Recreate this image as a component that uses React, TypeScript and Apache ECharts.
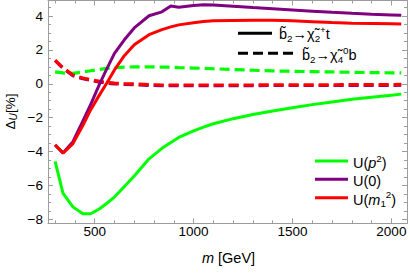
import React, { useEffect, useRef } from "react";
import * as echarts from "echarts";

// ---- data ----
const mass = [300, 340, 390, 440, 480, 525, 560, 600, 650, 700, 775, 840, 885, 925, 1000, 1050, 1100, 1200, 1300, 1400, 1500, 1600, 1700, 1800, 1900, 2000, 2050];

// solid: b2 -> chi2+ t
const solidP2 = [-4.58, -6.47, -7.27, -7.67, -7.68, -7.38, -7.07, -6.69, -6.07, -5.44, -4.43, -3.81, -3.47, -3.17, -2.78, -2.56, -2.36, -2.06, -1.81, -1.61, -1.41, -1.23, -1.07, -0.91, -0.79, -0.67, -0.61];
const solidZero = [-3.62, -4.08, -3.42, -2.2, -1.22, 0.0, 0.85, 1.8, 2.6, 3.3, 4.02, 4.25, 4.6, 4.52, 4.62, 4.67, 4.66, 4.58, 4.5, 4.43, 4.36, 4.29, 4.22, 4.16, 4.11, 4.07, 4.05];
const solidM1 = [-3.6, -4.1, -3.53, -2.47, -1.53, -0.64, 0.02, 0.82, 1.66, 2.3, 2.9, 3.2, 3.36, 3.48, 3.6, 3.68, 3.72, 3.74, 3.76, 3.76, 3.72, 3.67, 3.62, 3.58, 3.56, 3.54, 3.53];

// dashed: b2 -> chi4^0 b
const dashP2 = [0.7, 0.64, 0.62, 0.7, 0.77, 0.85, 0.91, 0.95, 0.98, 1.0, 1.0, 0.99, 0.98, 0.96, 0.93, 0.91, 0.89, 0.84, 0.8, 0.76, 0.74, 0.72, 0.7, 0.68, 0.66, 0.65, 0.64];
const dashZero = [1.37, 0.91, 0.48, 0.3, 0.2, 0.1, 0.04, 0.0, -0.03, -0.05, -0.09, -0.11, -0.11, -0.11, -0.11, -0.11, -0.11, -0.11, -0.11, -0.1, -0.1, -0.1, -0.1, -0.09, -0.09, -0.09, -0.08];
const dashM1 = [1.4, 0.95, 0.52, 0.34, 0.24, 0.14, 0.08, 0.04, 0.01, -0.01, -0.05, -0.07, -0.07, -0.07, -0.07, -0.07, -0.07, -0.07, -0.07, -0.06, -0.06, -0.06, -0.06, -0.05, -0.05, -0.05, -0.04];

const xMin = 264;
const xMax = 2079;
const yMin = -8.24;
const yMax = 4.92;

const GREEN = "#00ff00";
const PURPLE = "#800080";
const RED = "#ff0000";
const GRAY = "#9c9c9c";
const FONT = '"Liberation Sans", Arial, Helvetica, sans-serif';

const pairs = (vals: number[]) => mass.map((m, i) => [m, vals[i]]);

const rich = (size: number) => ({
  n: { fontSize: size, fontFamily: FONT, color: "#000" },
  i: { fontSize: size, fontFamily: FONT, fontStyle: "italic", color: "#000" },
  sb: { fontSize: size * 0.68, fontFamily: FONT, color: "#000", padding: [8, 0, 0, 0] },
  sp: { fontSize: size * 0.68, fontFamily: FONT, color: "#000", padding: [0, 0, 10, 0] },
  si: { fontSize: size * 0.75, fontFamily: FONT, fontStyle: "italic", color: "#000", padding: [7, 0, 0, 0] },
});

const txt = (x: number, y: number, text: string, size: number, align = "left", rotation = 0) => ({
  type: "text",
  x,
  y,
  rotation,
  silent: true,
  style: {
    text,
    rich: rich(size),
    fontSize: size,
    fontFamily: FONT,
    fill: "#000",
    align,
    verticalAlign: "middle",
    textAlign: align,
    textVerticalAlign: "middle",
  },
});

const hline = (x1: number, x2: number, y: number, color: string, dash?: number[]) => ({
  type: "line",
  silent: true,
  shape: { x1, y1: y, x2, y2: y },
  style: { stroke: color, lineWidth: 3, lineDash: dash || null },
});

function makeAxis(pos: string, isX: boolean, labels: boolean) {
  return {
    type: "value",
    position: pos,
    min: isX ? xMin : yMin,
    max: isX ? xMax : yMax,
    splitNumber: isX ? 4 : 6,
    axisLine: { show: true, onZero: false, lineStyle: { color: GRAY, width: 1 } },
    axisTick: { show: true, inside: true, length: 5, lineStyle: { color: GRAY, width: 1 } },
    minorTick: { show: true, splitNumber: isX ? 5 : 4, length: 3, lineStyle: { color: GRAY, width: 1 } },
    splitLine: { show: false },
    minorSplitLine: { show: false },
    axisLabel: {
      show: labels,
      color: "#000",
      fontSize: 13.5,
      fontFamily: FONT,
      margin: isX ? 1 : 5,
      formatter: (v: number) => {
        if (isX) return Math.abs(v % 500) < 1e-6 ? String(v) : "";
        const r = Math.round(v);
        if (Math.abs(v - r) > 1e-6 || r % 2 !== 0) return "";
        return r < 0 ? "\u2212" + Math.abs(r) : String(r);
      },
    },
  };
}

export default function App() {
  const ref = useRef<HTMLDivElement>(null);
  useEffect(() => {
    if (!ref.current) return;
    const chart = echarts.init(ref.current, null, { renderer: "svg" });
    const line = (vals: number[], color: string, dashed: boolean, z: number) => ({
      type: "line",
      data: pairs(vals),
      showSymbol: false,
      symbol: "none",
      z,
      lineStyle: { color, width: dashed ? 3.2 : 3, type: dashed ? [10, 5] : "solid" },
      itemStyle: { color },
      emphasis: { disabled: true },
    });
    chart.setOption({
      animation: false,
      backgroundColor: "#fff",
      grid: { left: 48, right: 1, top: 0.5, bottom: 49.7, containLabel: false },
      xAxis: [makeAxis("bottom", true, true), makeAxis("top", true, false)],
      yAxis: [makeAxis("left", false, true), makeAxis("right", false, false)],
      series: [
        line(dashP2, GREEN, true, 2),
        line(dashZero, PURPLE, true, 3),
        line(dashM1, RED, true, 4),
        line(solidP2, GREEN, false, 5),
        line(solidZero, PURPLE, false, 6),
        line(solidM1, RED, false, 7),
      ],
      graphic: [
        hline(238, 272, 33.3, "#000"),
        txt(279, 34, "{n|b\u0303}{sb|2}{n|\u2192\u03c7\u0303}{sb|2}{sp|+}{n|t}", 14.5),
        hline(238, 295, 53.3, "#000", [10, 5]),
        txt(302, 55, "{n|b\u0303}{sb|2}{n|\u2192\u03c7\u0303}{sb|4}{sp|0}{n|b}", 14.5),
        hline(315, 348, 161, GREEN),
        txt(353, 163, "{n|U(}{i|p}{sp|2}{n|)}", 14.5),
        hline(315, 348, 179.3, PURPLE),
        txt(353, 181, "{n|U(0)}", 14.5),
        hline(315, 348, 197.7, RED),
        txt(353, 199.5, "{n|U(}{i|m}{sb|1}{sp|2}{n|)}", 14.5),
        txt(228.5, 258, "{i|m}{n| [GeV]}", 14.5, "center"),
        txt(10, 111.5, "{n|\u0394}{si|U}{n|[%]}", 13.5, "center", Math.PI / 2),
      ],
    });
    return () => chart.dispose();
  }, []);
  return (
    <div
      ref={ref}
      style={{ position: "fixed", left: 0, top: 0, width: 410, height: 273, background: "#fff" }}
    />
  );
}
